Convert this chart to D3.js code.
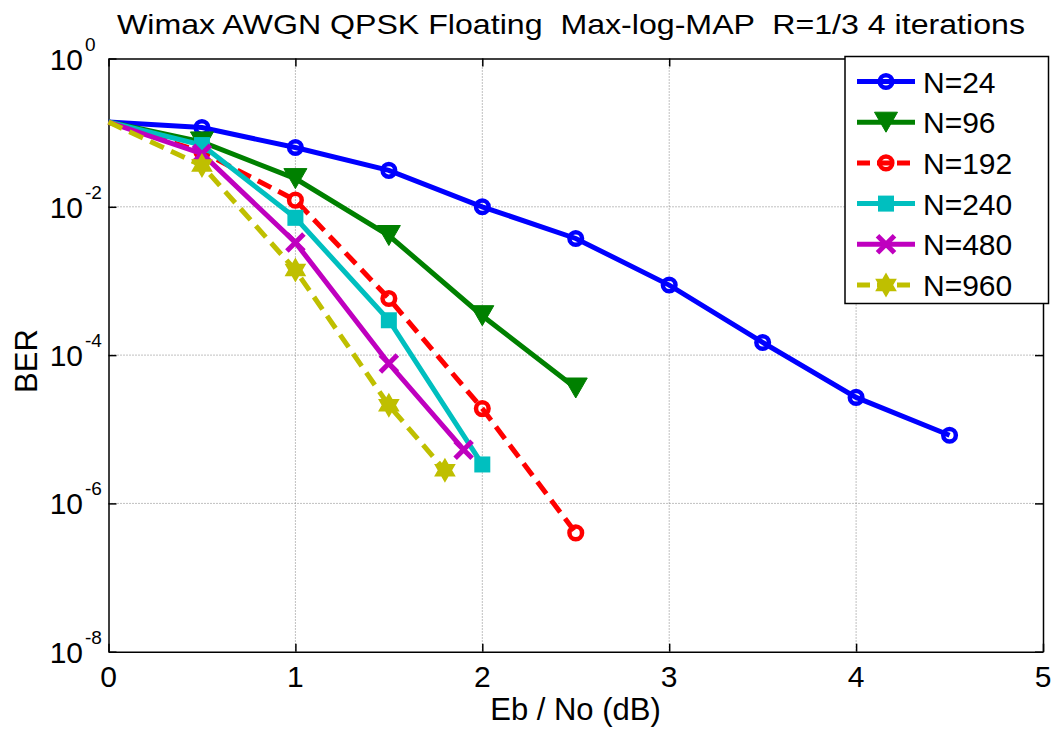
<!DOCTYPE html>
<html><head><meta charset="utf-8">
<script src="https://cdn.jsdelivr.net/npm/d3@7"></script>
<style>
html,body{margin:0;padding:0;background:#fff;}
svg{display:block;font-family:"Liberation Sans",Arial,sans-serif;}
text{white-space:pre;}
</style></head>
<body>
<svg id="chart" width="1062" height="729"></svg>
<script>
const titleText = "Wimax AWGN QPSK Floating  Max-log-MAP  R=1/3 4 iterations";
const xLabel = "Eb / No (dB)";
const yLabel = "BER";
const xTicks = [0, 1, 2, 3, 4, 5];
const yTickExps = [0, -2, -4, -6, -8];

const seriesNames = ["N=24", "N=96", "N=192", "N=240", "N=480", "N=960"];
const x24 = [0, 0.5, 1, 1.5, 2, 2.5, 3, 3.5, 4, 4.5];
const ber24 = [0.139, 0.117, 0.063, 0.031, 0.0100, 0.00374, 8.8e-4, 1.48e-4, 2.69e-5, 8.3e-6];
const x96 = [0, 0.5, 1, 1.5, 2, 2.5];
const ber96 = [0.139, 0.075, 0.024, 0.0041, 3.4e-4, 3.6e-5];
const x192 = [0, 0.5, 1, 1.5, 2, 2.5];
const ber192 = [0.139, 0.055, 0.0123, 5.8e-4, 1.9e-5, 4.0e-7];
const x240 = [0, 0.5, 1, 1.5, 2];
const ber240 = [0.139, 0.068, 0.0071, 2.95e-4, 3.35e-6];
const x480 = [0, 0.5, 1, 1.5, 1.9];
const ber480 = [0.139, 0.052, 0.0033, 7.7e-5, 5.3e-6];
const x960 = [0, 0.5, 1, 1.5, 1.8];
const ber960 = [0.139, 0.036, 0.0014, 2.1e-5, 2.8e-6];

const seriesX = [x24, x96, x192, x240, x480, x960];
const seriesY = [ber24, ber96, ber192, ber240, ber480, ber960];
const colors = ["#0000ff", "#008000", "#ff0000", "#00bfbf", "#bf00bf", "#bfbf00"];
const dashes = [null, null, "15,8", null, null, "15,8"];
const markers = ["circle", "triDown", "circle", "square", "x", "hexagram"];

const svg = d3.select("#chart");
const L = 108.5, R = 1043, T = 58.5, B = 651.7;
const xScale = d3.scaleLinear().domain([0, 5]).range([L, R]);
const yScale = d3.scaleLog().domain([1e-8, 1]).range([B, T]);

// grid
const grid = svg.append("g");
xTicks.slice(1, -1).forEach(t => {
  grid.append("line").attr("x1", xScale(t)).attr("x2", xScale(t)).attr("y1", T).attr("y2", B)
    .attr("stroke", "#808080").attr("stroke-width", 1).attr("stroke-dasharray", "1,2");
});
yTickExps.slice(1, -1).forEach(e => {
  const y = yScale(Math.pow(10, e));
  grid.append("line").attr("x1", L).attr("x2", R).attr("y1", y).attr("y2", y)
    .attr("stroke", "#808080").attr("stroke-width", 1).attr("stroke-dasharray", "1,2");
});

// axes via d3 axis (ticks inward)
const xAxisB = d3.axisBottom(xScale).tickValues(xTicks).tickSizeInner(-8).tickSizeOuter(0).tickFormat("");
const xAxisT = d3.axisTop(xScale).tickValues(xTicks).tickSizeInner(-8).tickSizeOuter(0).tickFormat("");
const yVals = yTickExps.map(e => Math.pow(10, e));
const yAxisL = d3.axisLeft(yScale).tickValues(yVals).tickSizeInner(-8).tickSizeOuter(0).tickFormat("");
const yAxisR = d3.axisRight(yScale).tickValues(yVals).tickSizeInner(-8).tickSizeOuter(0).tickFormat("");
[[xAxisB, `translate(0,${B})`], [xAxisT, `translate(0,${T})`], [yAxisL, `translate(${L},0)`], [yAxisR, `translate(${R},0)`]]
  .forEach(([ax, tr]) => {
    const g = svg.append("g").attr("transform", tr).call(ax);
    g.selectAll("path,line").attr("stroke", "#000").attr("stroke-width", 1.5);
  });

// x tick labels
xTicks.forEach(t => {
  svg.append("text").attr("x", xScale(t)).attr("y", 687).attr("text-anchor", "middle")
    .attr("font-size", 30).attr("fill", "#000").text(t);
});
// y tick labels
yTickExps.forEach(e => {
  const y = yScale(Math.pow(10, e));
  svg.append("text").attr("x", 83).attr("y", y + 11).attr("text-anchor", "end")
    .attr("font-size", 30).attr("fill", "#000").text("10");
  svg.append("text").attr("x", 85).attr("y", y - 8).attr("text-anchor", "start")
    .attr("font-size", 19).attr("fill", "#000").text(e === 0 ? "0" : "-" + Math.abs(e));
});

// labels
svg.append("text").attr("x", 575.5).attr("y", 720).attr("text-anchor", "middle")
  .attr("font-size", 31).attr("fill", "#000").text(xLabel);
svg.append("text").attr("transform", "translate(37,361) rotate(-90)").attr("text-anchor", "middle")
  .attr("font-size", 31).attr("fill", "#000").text(yLabel);
svg.append("text").attr("x", 571).attr("y", 34).attr("text-anchor", "middle")
  .attr("font-size", 28).attr("fill", "#000").attr("textLength", 908).attr("lengthAdjust", "spacingAndGlyphs")
  .text(titleText);

// marker drawing
function drawMarker(g, type, cx, cy, color) {
  if (type === "circle") {
    g.append("circle").attr("cx", cx).attr("cy", cy).attr("r", 6.3)
      .attr("fill", "none").attr("stroke", color).attr("stroke-width", 4.5);
  } else if (type === "triDown") {
    const w = 23, h = 20;
    g.append("path").attr("d", `M${cx - w / 2},${cy - h / 2}L${cx + w / 2},${cy - h / 2}L${cx},${cy + h / 2}Z`)
      .attr("fill", color).attr("stroke", color).attr("stroke-width", 1);
  } else if (type === "square") {
    const s = 16;
    g.append("rect").attr("x", cx - s / 2).attr("y", cy - s / 2).attr("width", s).attr("height", s)
      .attr("fill", color);
  } else if (type === "x") {
    const s = 8.5;
    g.append("path").attr("d", `M${cx - s},${cy - s}L${cx + s},${cy + s}M${cx - s},${cy + s}L${cx + s},${cy - s}`)
      .attr("stroke", color).attr("stroke-width", 5).attr("fill", "none");
  } else if (type === "hexagram") {
    const Ro = 12.5, Ri = Ro / Math.sqrt(3);
    let pts = [];
    for (let k = 0; k < 12; k++) {
      const a = -Math.PI / 2 + k * Math.PI / 6;
      const r = k % 2 === 0 ? Ro : Ri;
      pts.push([cx + r * Math.cos(a), cy + r * Math.sin(a)]);
    }
    g.append("path").attr("d", "M" + pts.map(p => p.join(",")).join("L") + "Z").attr("fill", color);
  }
}

// series
const line = d3.line().x(d => xScale(d[0])).y(d => yScale(d[1]));
seriesNames.forEach((name, i) => {
  const data = seriesX[i].map((xv, j) => [xv, seriesY[i][j]]);
  const g = svg.append("g");
  g.append("path").datum(data).attr("d", line).attr("fill", "none")
    .attr("stroke", colors[i]).attr("stroke-width", 5)
    .attr("stroke-dasharray", dashes[i]);
  // the curves enter from the left edge of the axes; no marker is visible at Eb/No = 0
  data.filter(d => d[0] > 0).forEach(d => drawMarker(g, markers[i], xScale(d[0]), yScale(d[1]), colors[i]));
});

// legend
const lg = svg.append("g");
lg.append("rect").attr("x", 845).attr("y", 56.5).attr("width", 203.5).attr("height", 247)
  .attr("fill", "#fff").attr("stroke", "#000").attr("stroke-width", 1.5);
seriesNames.forEach((name, i) => {
  const y = 81.5 + i * 40.7;
  lg.append("line").attr("x1", 857).attr("x2", 915).attr("y1", y).attr("y2", y)
    .attr("stroke", colors[i]).attr("stroke-width", 5).attr("stroke-dasharray", dashes[i] ? "13,7" : null);
  drawMarker(lg, markers[i], 886, y, colors[i]);
  lg.append("text").attr("x", 923).attr("y", y + 11).attr("font-size", 30).attr("fill", "#000").text(name);
});
</script>
</body></html>
